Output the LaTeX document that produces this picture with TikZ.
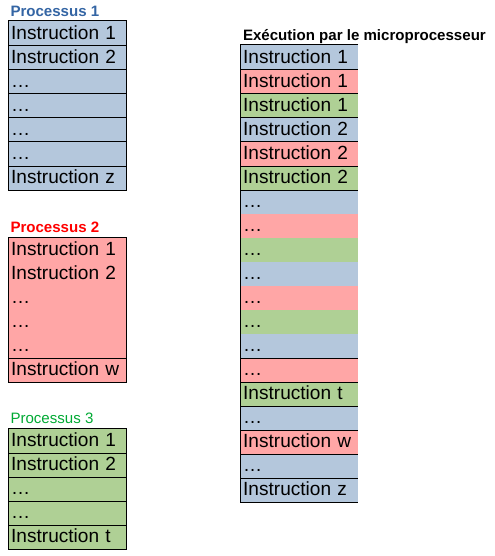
\documentclass[tikz,border=0pt]{standalone}
\usepackage{fontspec}
\setmainfont{Liberation Sans}
\definecolor{bleu}{HTML}{B4C7DC}
\definecolor{rouge}{HTML}{FFA6A6}
\definecolor{vert}{HTML}{AFD095}
\definecolor{titrebleu}{HTML}{3465A4}
\definecolor{titrevert}{HTML}{00A933}
\tikzset{
  case/.style={anchor=north west, inner xsep=2pt, inner ysep=0pt, minimum width=87.75pt, minimum height=18pt,
    text width=83.75pt, align=left, text height=9pt, text depth=0pt, font=\fontsize{14.3}{16}\selectfont},
  titre/.style={anchor=base west, inner sep=0pt, font=\fontsize{11.3}{13}\selectfont}
}
\begin{document}
\begin{tikzpicture}[x=0.75pt, y=-0.75pt, line width=0.75pt]
  \useasboundingbox (0,0) rectangle (494,556);
  % Processus 1
  \node[titre, text=titrebleu] (titre1) at (10,16.5) {\bfseries Processus 1};
  \foreach \txt [count=\i] in {Instruction 1, Instruction 2, …, …, …, …, Instruction z}
    \node[case, fill=bleu] (p1r\i) at (8,{21+24*(\i-1)}) {\txt};
  \draw (p1r1.north west) rectangle (p1r7.south east);
  \foreach \i in {1,...,6}
    \draw (p1r\i.south west) -- (p1r\i.south east);
  % Processus 2
  \node[titre, text=red] (titre2) at (10,232.5) {\bfseries Processus 2};
  \foreach \txt [count=\i] in {Instruction 1, Instruction 2, …, …, …, Instruction w}
    \node[case, fill=rouge] (p2r\i) at (8,{237+24*(\i-1)}) {\txt};
  \draw (p2r1.north west) rectangle (p2r6.south east);
  \draw (p2r5.south west) -- (p2r5.south east);
  % Processus 3
  \node[titre, text=titrevert] (titre3) at (10,423) {Processus 3};
  \foreach \txt [count=\i] in {Instruction 1, Instruction 2, …, …, Instruction t}
    \node[case, fill=vert] (p3r\i) at (8,{428+24*(\i-1)}) {\txt};
  \draw (p3r1.north west) rectangle (p3r5.south east);
  \foreach \i in {1,...,4}
    \draw (p3r\i.south west) -- (p3r\i.south east);
  % execution
  \node[titre] (titre4) at (242.5,40.5) {\bfseries Exécution par le microprocesseur};
  \foreach \txt/\col [count=\i] in {Instruction 1/bleu, Instruction 1/rouge, Instruction 1/vert,
      Instruction 2/bleu, Instruction 2/rouge, Instruction 2/vert,
      …/bleu, …/rouge, …/vert, …/bleu, …/rouge, …/vert, …/bleu, …/rouge,
      Instruction t/vert, …/bleu, Instruction w/rouge, …/bleu, Instruction z/bleu}
    \node[case, fill=\col] (ex\i) at (240,{45+24*(\i-1)}) {\txt};
  \draw (ex1.north east) -- (ex1.north west) -- (ex19.south west) -- (ex19.south east);
  \foreach \i in {1,...,6,13,14,...,18}
    \draw (ex\i.south west) -- (ex\i.south east);
\end{tikzpicture}
\end{document}
